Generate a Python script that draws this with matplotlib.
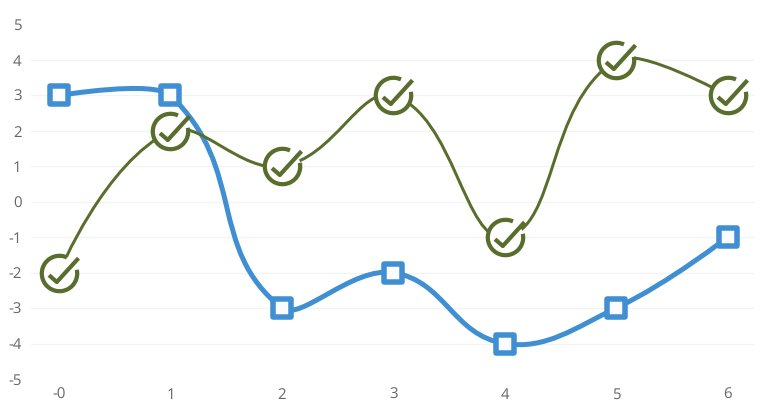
import numpy as np
import matplotlib
matplotlib.use("Agg")
import matplotlib.pyplot as plt
from matplotlib.path import Path
from matplotlib.patches import PathPatch
from matplotlib.markers import MarkerStyle

x_values = [0, 1, 2, 3, 4, 5, 6]
blue_values = [3, 3, -3, -2, -4, -3, -1]
green_values = [-2, 2, 1, 3, -1, 4, 3]
x_tick_labels = ["-0", "1", "2", "3", "4", "5", "6"]
y_ticks = [-5, -4, -3, -2, -1, 0, 1, 2, 3, 4, 5]
y_tick_labels = ["-5", "-4", "-3", "-2", "-1", "0", "1", "2", "3", "4", "5"]

BLUE = "#408fd3"
GREEN = "#596e2d"
TEXT = "#666666"
GRID = "#f3f3f3"
W, H = 772, 409
PX = 0.72
TENSION = 0.42

plt.rcParams["font.family"] = ["Open Sans", "DejaVu Sans"]
plt.rcParams["text.hinting"] = "no_hinting"
fig = plt.figure(figsize=(W / 100, H / 100), dpi=100)
L, R, T, B = 31.2, 755.4, 24.6, 379.0
ax = fig.add_axes([L / W, 1 - B / H, (R - L) / W, (B - T) / H])
ax.set_xlim(-0.25, 6.25)
ax.set_ylim(-5, 5)
for s in ax.spines.values():
    s.set_visible(False)
ax.set_xticks(x_values, x_tick_labels)
ax.set_yticks(y_ticks, y_tick_labels)
ax.tick_params(length=0, labelsize=10.8, labelcolor=TEXT)
ax.tick_params(axis="y", pad=7.0)
ax.tick_params(axis="x", pad=6.2)
ax.set_axisbelow(True)
ax.yaxis.grid(True, color=GRID, lw=0.9)
ax.xaxis.grid(False)
ax.yaxis.get_gridlines()[-1].set_visible(False)


def smooth_path(xs, ys):
    """Bezier through the points; handle length follows squared segment length, in pixels."""
    pts = ax.transData.transform(np.column_stack([xs, ys]))
    n = len(pts)
    out_h = np.zeros_like(pts)
    in_h = np.zeros_like(pts)
    for i in range(1, n - 1):
        d0 = np.sum((pts[i] - pts[i - 1]) ** 2)
        d1 = np.sum((pts[i + 1] - pts[i]) ** 2)
        chord = pts[i + 1] - pts[i - 1]
        in_h[i] = pts[i] - TENSION * d0 / (d0 + d1) * chord
        out_h[i] = pts[i] + TENSION * d1 / (d0 + d1) * chord
    in_h[-1] = pts[-1]
    out_h[0] = pts[0]
    verts = [pts[0]]
    codes = [Path.MOVETO]
    for i in range(n - 1):
        verts += [out_h[i], in_h[i + 1], pts[i + 1]]
        codes += [Path.CURVE4] * 3
    data = ax.transData.inverted().transform(np.array(verts))
    return Path(data, codes)


# check-in-circle marker, described in pixels about the point
R_ARC = 17.7
arc = Path.arc(65, 372)
check = np.array([[-10.5, -1.7], [-2.7, -8.5], [19.0, 15.3]])
verts = np.vstack([arc.vertices * R_ARC, check])
codes = list(arc.codes) + [Path.MOVETO, Path.LINETO, Path.LINETO]
check_path = Path(verts, codes)
check_size = 2 * np.max(np.abs(verts)) * PX
check_marker = MarkerStyle(check_path, joinstyle="miter", capstyle="butt")

ax.add_patch(PathPatch(smooth_path(x_values, blue_values), fc="none", ec=BLUE,
                       lw=5 * PX, zorder=3, capstyle="butt"))
ax.plot(x_values, blue_values, ls="none",
        marker=MarkerStyle("s", joinstyle="round"), ms=18.5 * PX, mfc="#fbfcff",
        mec=BLUE, mew=5.5 * PX, zorder=4, clip_on=False)
ax.add_patch(PathPatch(smooth_path(x_values, green_values), fc="none", ec=GREEN,
                       lw=3 * PX, zorder=5, capstyle="butt"))
ax.plot(x_values, green_values, ls="none", marker="o", ms=36 * PX, mfc="white",
        mec="none", zorder=6, clip_on=False)
ax.plot(x_values, green_values, ls="none", marker=check_marker, ms=check_size,
        mfc="none", mec=GREEN, mew=4.2 * PX, zorder=7, clip_on=False)

fig.savefig("out.png", dpi=100, facecolor="white")
